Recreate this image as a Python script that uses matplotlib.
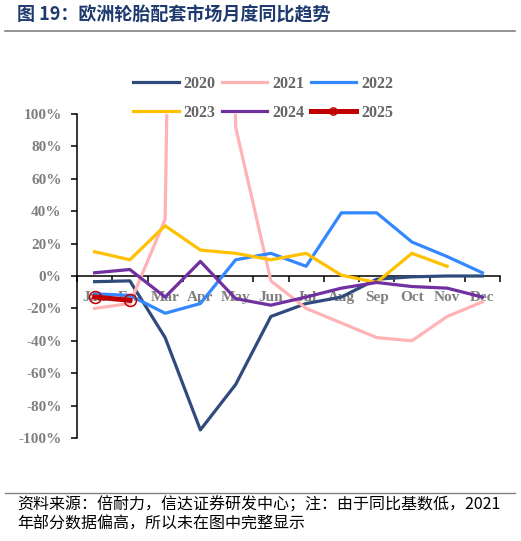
import numpy as np
import matplotlib
matplotlib.use('Agg')
import matplotlib.pyplot as plt
from matplotlib.ticker import FixedLocator

# data (YoY %)
months = ['Jan', 'Feb', 'Mar', 'Apr', 'May', 'Jun', 'Jul', 'Aug', 'Sep', 'Oct', 'Nov', 'Dec']
y2020 = [-3.5, -3, -38, -95, -67, -25, -17, -13, -2, -0.5, 0, 0]
y2021 = [-20, -17, 35, 1400, 92, -3, -20, -29, -38, -40, -25, -16]   # Apr far off the scale
y2022 = [-11, -12, -23, -17, 10, 14, 6, 39, 39, 21, 12, 2]
y2023 = [15, 10, 31, 16, 14, 10, 14, 0.5, -4, 14, 6, np.nan]
y2024 = [2, 4, -13, 9, -14, -18, -13, -7.5, -4, -6.5, -7.5, -13]
y2025 = [-13, -15]

title = '图 19：欧洲轮胎配套市场月度同比趋势'
note1 = '资料来源：倍耐力，信达证券研发中心；注：由于同比基数低，2021'
note2 = '年部分数据偏高，所以未在图中完整显示'

cjk = ['Noto Sans CJK SC', 'DejaVu Sans']
serif = 'Liberation Serif'
tick_col = '#7f7f7f'

W, H = 521, 541
fig = plt.figure(figsize=(W / 100, H / 100), dpi=100, facecolor='w')
ax = fig.add_axes([77 / W, 1 - 438 / H, (500 - 77) / W, (438 - 114) / H])

x = np.arange(12)
lw = 2.3
l20, = ax.plot(x, y2020, color='#2F4B7C', lw=lw, label='2020', zorder=3)
l21, = ax.plot(x, y2021, color='#FFB3B5', lw=lw, label='2021', zorder=3)
l22, = ax.plot(x, y2022, color='#3388FF', lw=lw, label='2022', zorder=3)
l23, = ax.plot(x, y2023, color='#FFC000', lw=lw, label='2023', zorder=3)
l24, = ax.plot(x, y2024, color='#7030A0', lw=lw, label='2024', zorder=3)
l25, = ax.plot(x[:len(y2025)], y2025, color='#C00000', lw=3.6, marker='o', ms=8.6,
               mfc='none', mec='#C00000', mew=1.1, label='2025', zorder=4)

ax.set_xlim(-0.5, 11.5)
ax.set_ylim(-100, 100)

for s in ['top', 'right']:
    ax.spines[s].set_visible(False)
ax.spines['bottom'].set_position(('data', 0))
ax.spines['left'].set_bounds(-100, 100)
for s in ['left', 'bottom']:
    ax.spines[s].set_linewidth(1.1)
    ax.spines[s].set_zorder(2.6)

ax.set_yticks(range(-100, 101, 20))
ax.set_yticklabels([f'{v}%' for v in range(-100, 101, 20)])
ax.tick_params(axis='y', direction='out', length=4, width=1.1, pad=7, colors='k',
               labelcolor=tick_col)

ax.set_xticks(x)
ax.set_xticklabels(months)
ax.xaxis.set_minor_locator(FixedLocator(np.arange(-0.5, 12, 1)))
ax.tick_params(axis='x', which='major', length=0, pad=11, labelcolor=tick_col)
ax.tick_params(axis='x', which='minor', direction='out', length=4, width=1.1)

for lab in ax.get_xticklabels() + ax.get_yticklabels():
    lab.set_fontfamily(serif)
    lab.set_fontweight('bold')
    lab.set_fontsize(11)

# ncol fills column by column, so order handles to get rows 2020-2022 / 2023-2025
handles = [l20, l23, l21, l24, l22, l25]
leg = fig.legend(handles=handles, labels=[h.get_label() for h in handles],
                 loc='center', bbox_to_anchor=(263 / W, 1 - 98.4 / H), ncol=3,
                 frameon=False, handlelength=2.85, handletextpad=0.3,
                 columnspacing=0.4, labelspacing=0.8, markerscale=0.6,
                 prop={'family': serif, 'weight': 'bold', 'size': 11.5})
for t in leg.get_texts():
    t.set_color('#666666')

# title and rules
fig.text(17 / W, 1 - 15 / H, title, fontsize=13, fontweight='bold', color='#1F3A6E',
         family=cjk, va='center', ha='left')
fig.add_artist(plt.Line2D([5 / W, 515 / W], [1 - 30.7 / H] * 2, color='#808080', lw=1.2))
fig.add_artist(plt.Line2D([5 / W, 515 / W], [1 - 493.3 / H] * 2, color='#808080', lw=1.0))

fig.text(17 / W, 1 - 505 / H, note1, fontsize=11.5, family=cjk, va='center', ha='left',
         style='italic')
fig.text(17 / W, 1 - 524 / H, note2, fontsize=11.5, family=cjk, va='center', ha='left',
         style='italic')

fig.savefig('out.png', dpi=100)
